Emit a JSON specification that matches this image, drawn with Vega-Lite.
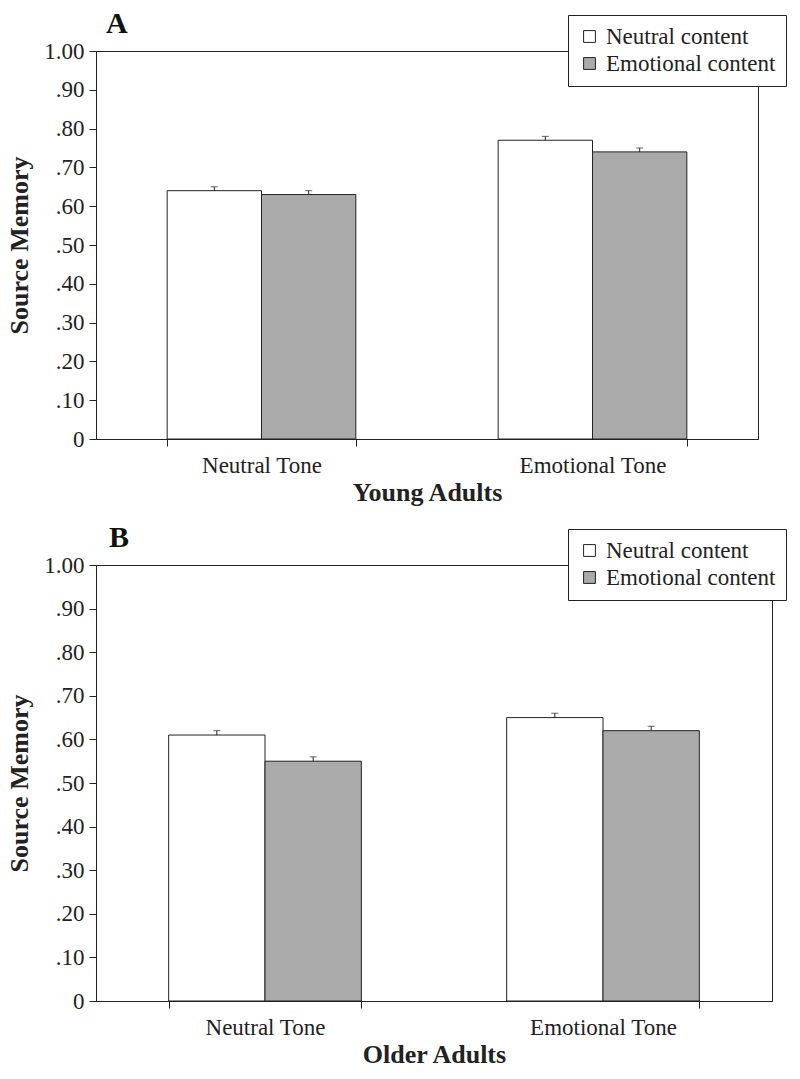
{
  "$schema": "https://vega.github.io/schema/vega-lite/v6.json",
  "background": "white",
  "padding": {"left": 6, "top": 8, "right": 5, "bottom": 2},
  "spacing": 16,
  "align": "none",
  "config": {
    "font": "Liberation Serif",
    "view": {"stroke": "#222", "strokeWidth": 1},
    "axis": {
      "labelFont": "Liberation Serif",
      "titleFont": "Liberation Serif",
      "labelColor": "#222",
      "titleColor": "#222",
      "domainColor": "#222",
      "tickColor": "#222",
      "grid": false,
      "labelFontSize": 23,
      "titleFontSize": 26,
      "titleFontWeight": "bold",
      "tickSize": 7,
      "labelOverlap": false
    },
    "legend": {
      "labelFont": "Liberation Serif",
      "labelFontSize": 23,
      "labelColor": "#222",
      "labelLimit": 400,
      "symbolType": "square",
      "symbolSize": 140,
      "symbolStrokeColor": "#222",
      "symbolStrokeWidth": 1,
      "strokeColor": "#222",
      "fillColor": "white",
      "padding": 10,
      "rowPadding": 3,
      "labelOffset": 5
    },
    "title": {"font": "Liberation Serif", "color": "#111"}
  },
  "resolve": {"legend": {"fill": "independent"}, "scale": {"fill": "independent", "x": "independent", "y": "independent", "xOffset": "independent"}},
  "vconcat": [
    {
      "width": 662,
      "height": 388,
      "title": {"text": "A", "anchor": "start", "frame": "group", "fontSize": 30, "fontWeight": "bold", "dx": 10, "offset": -24},
      "data": {"values": [
        {"tone": "Neutral Tone", "content": "Neutral content", "value": 0.64, "upper": 0.65},
        {"tone": "Neutral Tone", "content": "Emotional content", "value": 0.63, "upper": 0.64},
        {"tone": "Emotional Tone", "content": "Neutral content", "value": 0.77, "upper": 0.78},
        {"tone": "Emotional Tone", "content": "Emotional content", "value": 0.74, "upper": 0.75}
      ]},
      "encoding": {
        "x": {"field": "tone", "type": "nominal", "sort": ["Neutral Tone", "Emotional Tone"],
              "scale": {"paddingInner": 0.43, "paddingOuter": 0.215},
              "axis": {"title": "Young Adults", "labelAngle": 0, "tickBand": "extent", "labelPadding": 8, "titlePadding": 2}},
        "xOffset": {"field": "content", "type": "nominal", "sort": ["Neutral content", "Emotional content"], "scale": {"paddingInner": 0, "paddingOuter": 0}}
      },
      "layer": [
        {
          "mark": {"type": "bar", "stroke": "#222", "strokeWidth": 1},
          "encoding": {
            "y": {"field": "value", "type": "quantitative", "scale": {"domain": [0, 1]},
                  "axis": {"title": "Source Memory", "values": [0, 0.1, 0.2, 0.3, 0.4, 0.5, 0.6, 0.7, 0.8, 0.9, 1], "tickCount": 11, "labelExpr": "datum.value == 0 ? '0' : datum.value == 1 ? '1.00' : replace(format(datum.value, '.2f'), '0.', '.')", "titlePadding": 11, "labelPadding": 5}},
            "fill": {"field": "content", "type": "nominal", "sort": ["Neutral content", "Emotional content"],
                     "scale": {"domain": ["Neutral content", "Emotional content"], "range": ["#ffffff", "#aaaaaa"]},
                     "legend": {"title": null, "orient": "none", "legendX": 472, "legendY": -36}}
          }
        },
        {
          "mark": {"type": "rule", "color": "#222", "strokeWidth": 1},
          "encoding": {
            "y": {"field": "value", "type": "quantitative"},
            "y2": {"field": "upper"}
          }
        },
        {
          "mark": {"type": "tick", "color": "#222", "thickness": 1, "size": 7},
          "encoding": {
            "y": {"field": "upper", "type": "quantitative"}
          }
        }
      ]
    },
    {
      "width": 676,
      "height": 436,
      "title": {"text": "B", "anchor": "start", "frame": "group", "fontSize": 30, "fontWeight": "bold", "dx": 13, "offset": -24},
      "data": {"values": [
        {"tone": "Neutral Tone", "content": "Neutral content", "value": 0.61, "upper": 0.62},
        {"tone": "Neutral Tone", "content": "Emotional content", "value": 0.55, "upper": 0.56},
        {"tone": "Emotional Tone", "content": "Neutral content", "value": 0.65, "upper": 0.66},
        {"tone": "Emotional Tone", "content": "Emotional content", "value": 0.62, "upper": 0.63}
      ]},
      "encoding": {
        "x": {"field": "tone", "type": "nominal", "sort": ["Neutral Tone", "Emotional Tone"],
              "scale": {"paddingInner": 0.43, "paddingOuter": 0.215},
              "axis": {"title": "Older Adults", "labelAngle": 0, "tickBand": "extent", "labelPadding": 8, "titlePadding": 2}},
        "xOffset": {"field": "content", "type": "nominal", "sort": ["Neutral content", "Emotional content"], "scale": {"paddingInner": 0, "paddingOuter": 0}}
      },
      "layer": [
        {
          "mark": {"type": "bar", "stroke": "#222", "strokeWidth": 1},
          "encoding": {
            "y": {"field": "value", "type": "quantitative", "scale": {"domain": [0, 1]},
                  "axis": {"title": "Source Memory", "values": [0, 0.1, 0.2, 0.3, 0.4, 0.5, 0.6, 0.7, 0.8, 0.9, 1], "tickCount": 11, "labelExpr": "datum.value == 0 ? '0' : datum.value == 1 ? '1.00' : replace(format(datum.value, '.2f'), '0.', '.')", "titlePadding": 11, "labelPadding": 5}},
            "fill": {"field": "content", "type": "nominal", "sort": ["Neutral content", "Emotional content"],
                     "scale": {"domain": ["Neutral content", "Emotional content"], "range": ["#ffffff", "#aaaaaa"]},
                     "legend": {"title": null, "orient": "none", "legendX": 472, "legendY": -36}}
          }
        },
        {
          "mark": {"type": "rule", "color": "#222", "strokeWidth": 1},
          "encoding": {
            "y": {"field": "value", "type": "quantitative"},
            "y2": {"field": "upper"}
          }
        },
        {
          "mark": {"type": "tick", "color": "#222", "thickness": 1, "size": 7},
          "encoding": {
            "y": {"field": "upper", "type": "quantitative"}
          }
        }
      ]
    }
  ]
}
